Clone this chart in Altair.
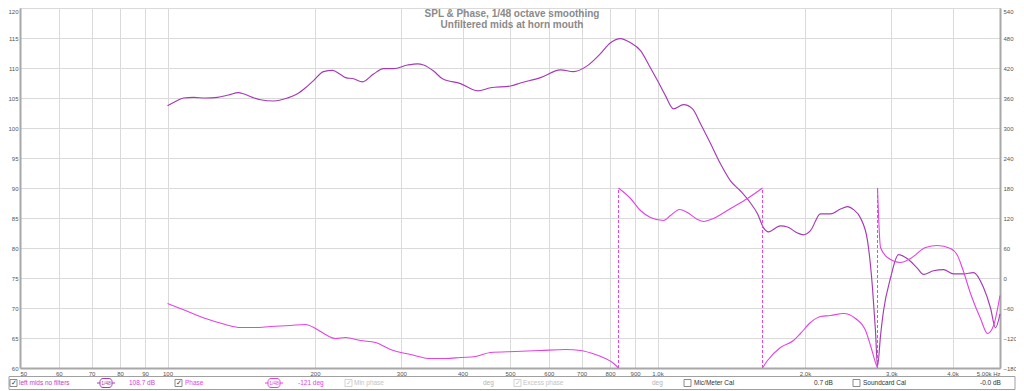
import altair as alt
import pandas as pd

FONT = "Liberation Sans"
SPL_COLOR = "#a63ab6"
PHASE_COLOR = "#e443e4"
GRID = "#dadada"
FRAME = "#a8a8a8"
OX, OY = 20, 8          # page position of the plot area's top-left corner
W, H = 980, 360

# ---------------- data ----------------
spl_freq = [100.0, 103.8, 107.8, 113.0, 119.6, 126.5, 133.2, 139.6, 142.9, 149.1,
            154.8, 164.6, 175.7, 184.2, 191.3, 198.6, 208.2, 217.2, 225.5, 230.9,
            239.7, 250.0, 263.3, 276.0, 289.3, 309.0, 323.8, 333.1, 349.1, 364.2,
            396.2, 429.2, 456.1, 501.2, 525.3, 577.0, 634.0, 673.9, 719.6, 765.0,
            801.8, 840.4, 880.9, 923.2, 967.6, 1000, 1038, 1078, 1130, 1179,
            1224, 1283, 1345, 1409, 1477, 1548, 1600, 1645, 1685, 1782,
            1842, 1931, 1986, 2052, 2151, 2255, 2363, 2442, 2512, 2596,
            2683, 2746, 2785, 2812, 2852, 2892, 2989, 3103, 3237, 3393,
            3490, 3658, 3834, 4018, 4212, 4415, 4627, 4782, 4895, 5000]
spl_db = [103.7, 104.4, 105.0, 105.1, 105.0, 105.1, 105.5, 105.9, 105.7, 105.1,
          104.7, 104.5, 105.0, 105.7, 106.7, 107.9, 109.4, 109.6, 108.9, 108.4,
          108.2, 107.7, 109.0, 109.9, 109.9, 110.5, 110.7, 110.5, 109.5, 108.2,
          107.4, 106.2, 106.7, 107.0, 107.5, 108.4, 109.7, 109.4, 110.4, 112.4,
          114.2, 114.9, 114.2, 112.9, 110.0, 107.9, 105.4, 103.2, 103.9, 103.2,
          100.7, 97.4, 94.0, 91.2, 89.5, 87.5, 85.7, 83.4, 82.7, 83.7,
          83.5, 82.5, 82.2, 82.9, 85.7, 85.7, 86.5, 86.9, 86.4, 85.0,
          81.2, 73.4, 66.2, 60.3, 65.4, 69.5, 75.0, 78.9, 78.2, 76.6,
          75.6, 76.2, 76.4, 75.7, 75.7, 75.9, 73.4, 70.0, 66.7, 69.0]

# wrapped phase, one list per unwrapped piece
ph1_freq = [100.0, 108.8, 119.6, 131.3, 140.9, 151.2, 162.3, 178.2, 191.3, 200.5,
            210.1, 220.3, 230.9, 247.6, 265.8, 285.2, 313.3, 344.2, 369.4, 396.2,
            425.2, 456.1, 513.1, 577.0, 649.1, 696.6, 747.2, 783.2, 809.4, 832.5]
ph1_deg = [-51, -65, -81, -93, -99, -99, -97, -95, -93, -101,
           -113, -121, -119, -125, -129, -143, -153, -161, -161, -159,
           -157, -149, -147, -145, -143, -145, -153, -161, -169, -180]
ph2_freq = [832.5, 880.9, 923.2, 967.6, 1029, 1063, 1109, 1151, 1207, 1241, 1301, 1409, 1526, 1638]
ph2_deg = [180, 159, 135, 121, 115, 125, 137, 131, 117, 113, 119, 139, 159, 180]
ph3_freq = [1638, 1677, 1782, 1895, 1958, 2052, 2151, 2255, 2397, 2536, 2658, 2721, 2785, 2812]
ph3_deg = [-180, -165, -139, -125, -111, -89, -77, -75, -71, -81, -105, -135, -169, -180]
ph4_freq = [2812, 2852, 2947, 3132, 3284, 3523, 3727, 3962, 4095, 4192, 4353, 4562, 4715, 4851, 5000]
ph4_deg = [180, 61, 41, 31, 39, 61, 65, 59, 45, 19, -31, -81, -111, -95, -35]

wrap_freq = [832.5, 1638, 2812]
wrap_lo = [-180, -180, -180]
wrap_hi = [180, 180, 180]

x_ticks = [50, 60, 70, 80, 90, 100, 200, 300, 400, 500, 600, 700, 800, 900,
           1000, 2000, 3000, 4000, 5000]
db_ticks = list(range(60, 121, 5))
deg_ticks = list(range(-180, 541, 60))

title_lines = ["SPL & Phase, 1/48 octave smoothing", "Unfiltered mids at horn mouth"]

# ---------------- tables ----------------
spl_df = pd.DataFrame({"f": spl_freq, "db": spl_db})
segs = []
for i, (fs, ds) in enumerate([(ph1_freq, ph1_deg), (ph2_freq, ph2_deg),
                              (ph3_freq, ph3_deg), (ph4_freq, ph4_deg)]):
    segs.append(pd.DataFrame({"f": fs, "deg": ds, "seg": i}))
phase_df = pd.concat(segs, ignore_index=True)
wrap_df = pd.DataFrame({"f": wrap_freq, "lo": wrap_lo, "hi": wrap_hi})
one = pd.DataFrame({"k": [0]})

x_scale = alt.Scale(type="log", domain=[50, 5000], nice=False)
db_scale = alt.Scale(domain=[60, 120], nice=False, zero=False)
deg_scale = alt.Scale(domain=[-180, 540], nice=False, zero=False)

x_axis = alt.Axis(values=x_ticks, grid=True, gridColor=GRID, gridWidth=1,
                  ticks=False, domain=True, domainColor=FRAME, domainWidth=2,
                  labelFont=FONT, labelFontSize=6, labelColor="#555555",
                  labelPadding=2, labelOverlap=False,
                  labelExpr="datum.value >= 5000 ? '5.00k Hz' : (datum.value >= 1000 ? (datum.value/1000) + '.0k' : '' + datum.value)")
db_axis = alt.Axis(values=db_ticks, orient="left", grid=True, gridColor=GRID, gridWidth=1,
                   ticks=False, domain=True, domainColor=FRAME, domainWidth=2,
                   labelFont=FONT, labelFontSize=6, labelColor="#555555", labelPadding=2,
                   labelBaseline={"condition": {"test": "datum.value >= 120", "value": "top"}, "value": "middle"})
deg_axis = alt.Axis(values=deg_ticks, orient="right", grid=False,
                    ticks=False, domain=True, domainColor=FRAME, domainWidth=2,
                    labelFont=FONT, labelFontSize=6, labelColor="#555555", labelPadding=3,
                    labelBaseline={"condition": {"test": "datum.value >= 540", "value": "top"}, "value": "middle"})

spl = alt.Chart(spl_df).mark_line(color=SPL_COLOR, strokeWidth=1.15, interpolate="monotone").encode(
    x=alt.X("f:Q", scale=x_scale, axis=x_axis, title=None),
    y=alt.Y("db:Q", scale=db_scale, axis=db_axis, title=None),
)
phase = alt.Chart(phase_df).mark_line(color=PHASE_COLOR, strokeWidth=1.1, interpolate="monotone").encode(
    x=alt.X("f:Q", scale=x_scale, title=None),
    y=alt.Y("deg:Q", scale=deg_scale, axis=deg_axis, title=None),
    detail="seg:N",
)
wraps = alt.Chart(wrap_df).mark_rule(color=PHASE_COLOR, strokeWidth=1, strokeDash=[3, 2]).encode(
    x=alt.X("f:Q", scale=x_scale, title=None),
    y=alt.Y("lo:Q", scale=deg_scale, axis=None, title=None),
    y2="hi:Q",
)


# ---------------- title and the REW control strip ----------------
def txt(px, py, s, color, size=6.5, align="left", weight="normal"):
    return alt.Chart(one).mark_text(text=s, color=color, fontSize=size, align=align,
                                    baseline="middle", font=FONT, fontWeight=weight).encode(
        x=alt.value(px - OX), y=alt.value(py - OY))


def box(x1, x2, y1, y2, stroke, fill="white", sw=0.8, r=0):
    return alt.Chart(one).mark_rect(fill=fill, stroke=stroke, strokeWidth=sw, cornerRadius=r).encode(
        x=alt.value(x1 - OX), x2=alt.value(x2 - OX), y=alt.value(y1 - OY), y2=alt.value(y2 - OY))


def hline(x1, x2, py, color, sw=1):
    return alt.Chart(one).mark_rule(color=color, strokeWidth=sw).encode(
        x=alt.value(x1 - OX), x2=alt.value(x2 - OX), y=alt.value(py - OY))


def checkbox(px, checked, grey=False):
    c = "#c8c8c8" if grey else "#6e6e6e"
    out = [box(px, px + 7, 379.5, 386.5, c)]
    if checked:
        out.append(txt(px + 3.5, 383, "\u2713", "#c8c8c8" if grey else "#333333", size=7, align="center"))
    return out


def smooth_icon(cx, color):
    return [hline(cx - 9, cx + 9, 383, color),
            box(cx - 6, cx + 6, 378.5, 387.5, color, sw=1, r=3),
            txt(cx, 383, "1/48", color, size=5, align="center")]


ui = []
ui.append(txt(512, 14, title_lines[0], "#8a8a8a", size=10, align="center", weight="bold"))
ui.append(txt(512, 24.5, title_lines[1], "#8a8a8a", size=10, align="center", weight="bold"))
ui.append(box(9, 1015, 376.5, 389.5, "#a0a0a0", fill="white", sw=1))
ui += checkbox(10, True)
ui.append(txt(19, 383, "left mids no filters", "#c43cc8"))
ui += smooth_icon(106, SPL_COLOR)
ui.append(txt(129, 383, "108.7 dB", "#cf3fd4"))
ui += checkbox(175, True)
ui.append(txt(185, 383, "Phase", PHASE_COLOR))
ui += smooth_icon(274, PHASE_COLOR)
ui.append(txt(298, 383, "-121 deg", PHASE_COLOR))
ui += checkbox(345, True, grey=True)
ui.append(txt(354, 383, "Min phase", "#c4c4c4"))
ui.append(txt(483, 383, "deg", "#b4b4b4"))
ui += checkbox(514, True, grey=True)
ui.append(txt(523, 383, "Excess phase", "#c4c4c4"))
ui.append(txt(652, 383, "deg", "#b4b4b4"))
ui += checkbox(684, False)
ui.append(txt(694, 383, "Mic/Meter Cal", "#333333"))
ui.append(txt(814, 383, "0.7 dB", "#333333"))
ui += checkbox(853, False)
ui.append(txt(863, 383, "Soundcard Cal", "#333333"))
ui.append(txt(980, 383, "-0.0 dB", "#333333"))

chart = alt.layer(spl, phase, wraps, *ui).resolve_scale(y="independent").properties(
    width=W, height=H,
    padding={"left": 12, "top": 0, "right": 16, "bottom": 24},
    autosize=alt.AutoSizeParams(type="none"),
).configure_view(stroke="#b8b8b8", strokeWidth=1)

chart.save("out.html", embed_options={"renderer": "svg", "actions": False})
